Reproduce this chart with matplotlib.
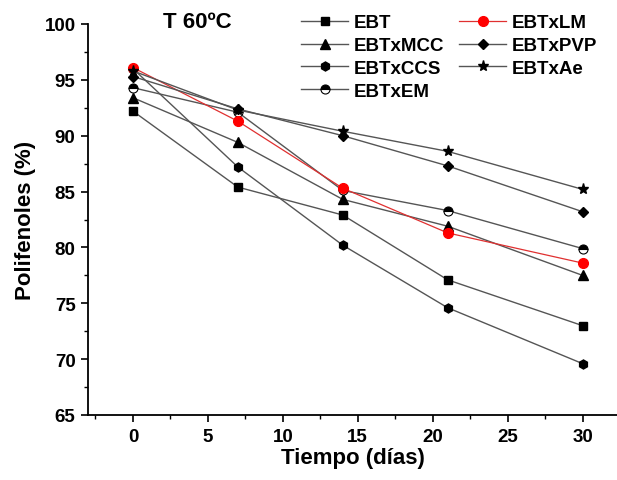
import matplotlib
matplotlib.use("Agg")
import matplotlib.pyplot as plt
from matplotlib.ticker import MultipleLocator

plt.rcParams['font.family'] = ['Liberation Sans', 'DejaVu Sans']
plt.rcParams['font.weight'] = 'bold'

days = [0, 7, 14, 21, 30]
EBT = [92.2, 85.4, 82.9, 77.1, 73.0]
EBTxLM = [96.1, 91.3, 85.3, 81.3, 78.6]
EBTxMCC = [93.4, 89.4, 84.3, 81.9, 77.5]
EBTxPVP = [95.3, 92.4, 90.0, 87.3, 83.2]
EBTxCCS = [96.0, 87.2, 80.2, 74.6, 69.6]
EBTxAe = [95.8, 92.3, 90.4, 88.6, 85.2]
EBTxEM = [94.3, 92.1, 85.1, 83.3, 79.9]

fig = plt.figure(figsize=(6.17, 4.81), dpi=100)
ax = fig.add_axes([88/617, 1-416/481, 1-88/617, (416-25)/481])

lc = '#555555'
kw = dict(color=lc, lw=1.0, markersize=6.5, markeredgecolor='black', markerfacecolor='black')
ax.plot(days, EBT, marker='s', label='EBT', **{**kw, 'markersize': 6})
ax.plot(days, EBTxMCC, marker='^', label='EBTxMCC', **kw)
ax.plot(days, EBTxCCS, marker='h', label='EBTxCCS', **kw)
ax.plot(days, EBTxEM, marker='o', fillstyle='top', markerfacecoloralt='white',
        label='EBTxEM', color=lc, lw=1.0, markersize=6.5, markeredgecolor='black',
        markerfacecolor='black', markeredgewidth=0.8)
ax.plot(days, EBTxLM, marker='o', color='#e03030', lw=0.9, markersize=7,
        markeredgecolor='red', markerfacecolor='red', label='EBTxLM')
ax.plot(days, EBTxPVP, marker='D', label='EBTxPVP', **{**kw, 'markersize': 5.5})
ax.plot(days, EBTxAe, marker='*', label='EBTxAe', **{**kw, 'markersize': 8})

ax.set_xlim(-3, 32.3)
ax.set_ylim(65, 100)
ax.spines['top'].set_visible(False)
ax.spines['right'].set_visible(False)
ax.spines['left'].set_linewidth(1.3)
ax.spines['bottom'].set_linewidth(1.3)
ax.xaxis.set_major_locator(MultipleLocator(5))
ax.xaxis.set_minor_locator(MultipleLocator(2.5))
ax.yaxis.set_major_locator(MultipleLocator(5))
ax.yaxis.set_minor_locator(MultipleLocator(2.5))
ax.tick_params(which='major', direction='out', length=5, width=1.2, labelsize=13.5, pad=4)
ax.tick_params(which='minor', direction='out', length=3, width=1.0)
ax.set_xlabel('Tiempo (días)', fontsize=16, fontweight='bold', labelpad=2)
ax.set_ylabel('Polifenoles (%)', fontsize=16, fontweight='bold', labelpad=6)

fig.text(163/617, 1-22/481, 'T 60ºC', fontsize=16, fontweight='bold', va='center', ha='left')

h, l = ax.get_legend_handles_labels()
hd = dict(zip(l, h))
col1 = ['EBT', 'EBTxMCC', 'EBTxCCS', 'EBTxEM']
col2 = ['EBTxLM', 'EBTxPVP', 'EBTxAe']
labs = col1 + col2
leg = fig.legend([hd[k] for k in labs], labs, loc='upper left',
                 bbox_to_anchor=(290/617, 1-4/481), ncol=2, frameon=False,
                 fontsize=13.5, handlelength=2.5, handletextpad=0.3,
                 columnspacing=0.8, labelspacing=0.3, borderpad=0.1)
for t in leg.get_texts():
    t.set_fontweight('bold')

fig.savefig('out.png', dpi=100)
